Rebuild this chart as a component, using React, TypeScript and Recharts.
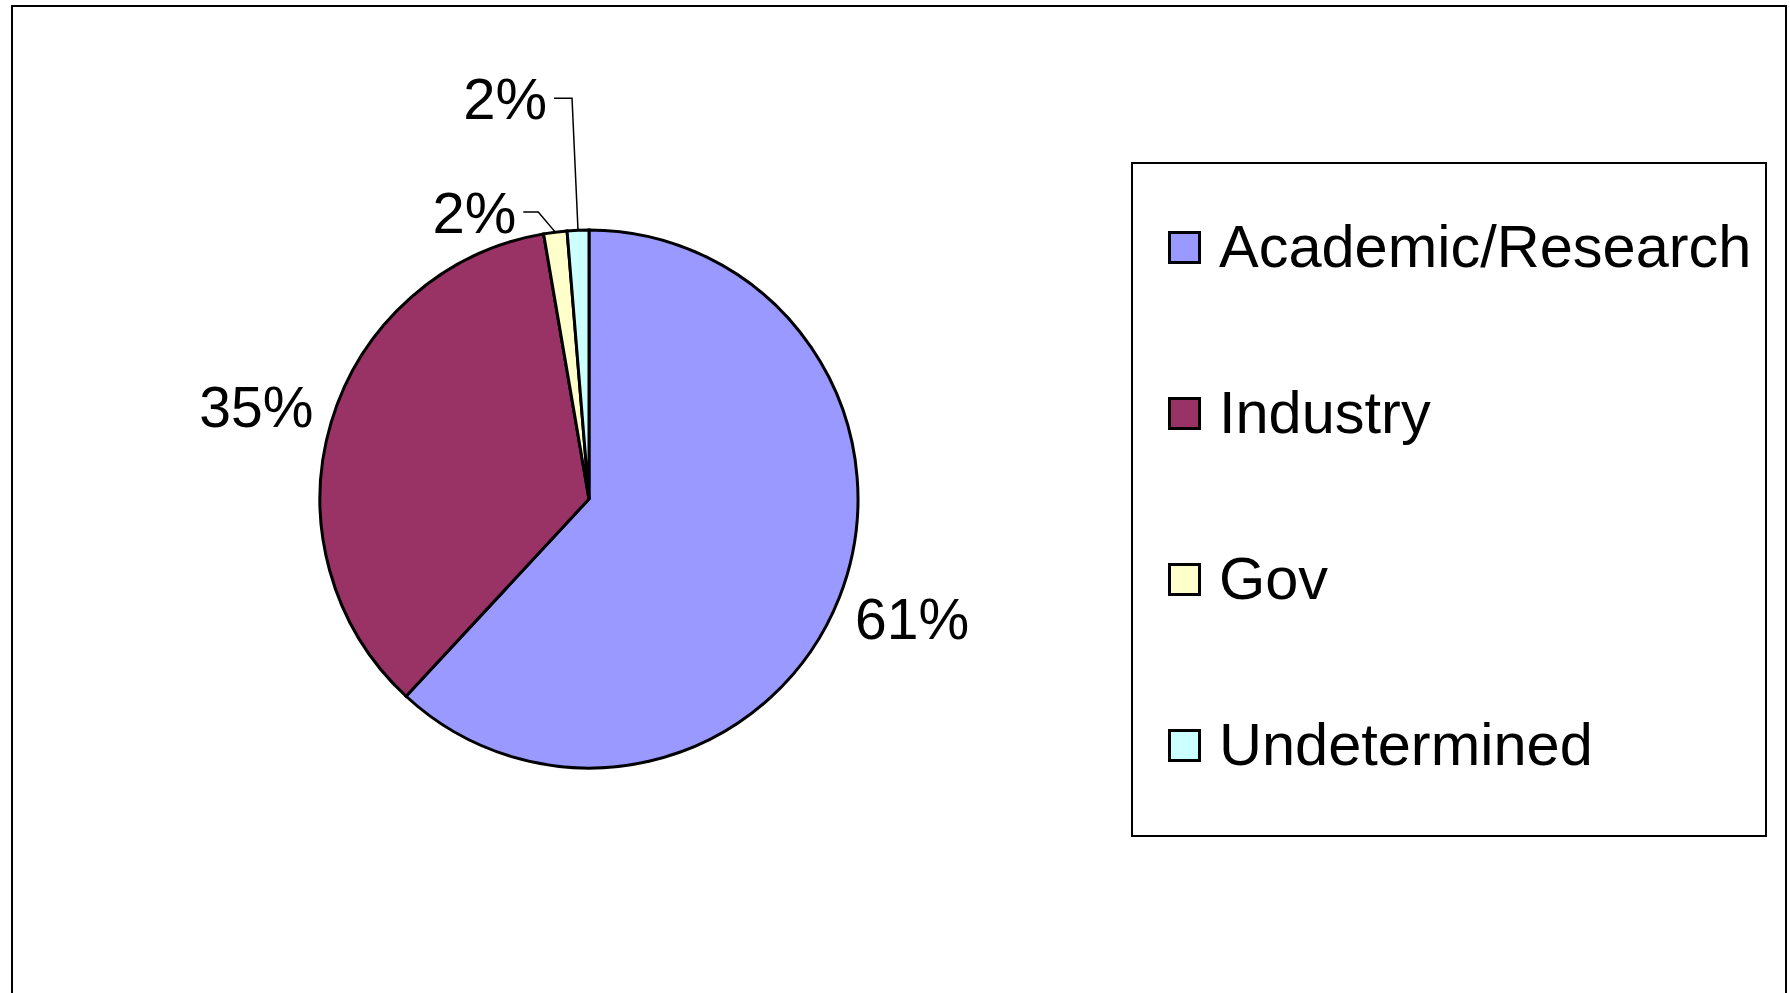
import React from "react";
import { PieChart, Pie, Cell, Legend } from "recharts";

const categories = ["Academic/Research", "Industry", "Gov", "Undetermined"];
const values = [61.9, 35.4, 1.4, 1.3];
const valueLabels = ["61%", "35%", "2%", "2%"];
const colors = ["#9999FF", "#993366", "#FFFFCC", "#CCFFFF"];

const data = categories.map((name, i) => ({ name, value: values[i] }));

const FONT = "'Liberation Sans', Arial, Helvetica, sans-serif";
const RAD = Math.PI / 180;
// label layout (relative to slice geometry)
const LABEL_GAP = 78;
const LABEL_DY = [-7, 7];
const LEADER_ELBOW: Record<number, [number, number]> = { 2: [-17, -20], 3: [-6, -132] };
const LEADER_RUN: Record<number, number> = { 2: 15, 3: 18 };

const renderLabel = (props: any) => {
  const { cx, cy, midAngle, outerRadius, index } = props;
  const cos = Math.cos(-midAngle * RAD);
  const sin = Math.sin(-midAngle * RAD);
  if (index < 2) {
    const r = outerRadius + LABEL_GAP;
    return (
      <text
        x={cx + r * cos}
        y={cy + r * sin + LABEL_DY[index]}
        textAnchor="middle"
        dominantBaseline="central"
        fontFamily={FONT}
        fontSize={57}
        fill="#000"
      >
        {valueLabels[index]}
      </text>
    );
  }
  const ox = cx + outerRadius * cos;
  const oy = cy + outerRadius * sin;
  const [ex, ey] = LEADER_ELBOW[index];
  const x1 = ox + ex;
  const y1 = oy + ey;
  const x2 = x1 - LEADER_RUN[index];
  return (
    <g>
      <polyline points={`${ox},${oy} ${x1},${y1} ${x2},${y1}`} fill="none" stroke="#000" strokeWidth={1.5} />
      <text
        x={x2 - 7}
        y={y1}
        textAnchor="end"
        dominantBaseline="central"
        fontFamily={FONT}
        fontSize={58}
        fill="#000"
      >
        {valueLabels[index]}
      </text>
    </g>
  );
};

const LegendBox = () => (
  <div
    style={{
      width: 636,
      height: 675,
      border: "2px solid #000",
      boxSizing: "border-box",
      position: "relative",
      background: "#fff",
      fontFamily: FONT,
    }}
  >
    {categories.map((name, i) => (
      <div
        key={name}
        style={{
          position: "absolute",
          left: 35,
          top: 83 + i * 166,
          height: 0,
          display: "flex",
          alignItems: "center",
        }}
      >
        <div
          style={{
            width: 33,
            height: 33,
            boxSizing: "border-box",
            border: "3px solid #000",
            background: colors[i],
            flex: "none",
          }}
        />
        <span style={{ marginLeft: 18, fontSize: 59.5, color: "#000", whiteSpace: "nowrap", lineHeight: 1 }}>
          {name}
        </span>
      </div>
    ))}
  </div>
);

export default function App() {
  return (
    <div
      style={{
        position: "absolute",
        left: 0,
        top: 0,
        width: 1790,
        height: 993,
        overflow: "hidden",
        background: "#fff",
      }}
    >
      <div
        style={{
          position: "absolute",
          left: 11,
          top: 5,
          width: 1776,
          height: 1100,
          border: "2px solid #000",
          boxSizing: "border-box",
        }}
      />
      <div style={{ position: "absolute", left: 0, top: 0 }}>
        <PieChart width={1790} height={993} margin={{ top: 0, right: 0, bottom: 0, left: 0 }}>
          <Pie
            data={data}
            dataKey="value"
            nameKey="name"
            cx={589}
            cy={499}
            outerRadius={269}
            startAngle={90}
            endAngle={-270}
            stroke="#000"
            strokeWidth={3}
            label={renderLabel}
            labelLine={false}
            isAnimationActive={false}
          >
            {data.map((d, i) => (
              <Cell key={d.name} fill={colors[i]} />
            ))}
          </Pie>
          <Legend
            layout="vertical"
            align="right"
            verticalAlign="top"
            content={() => <LegendBox />}
            wrapperStyle={{ position: "absolute", left: 1131, top: 162, width: 636, height: 675 }}
          />
        </PieChart>
      </div>
    </div>
  );
}
